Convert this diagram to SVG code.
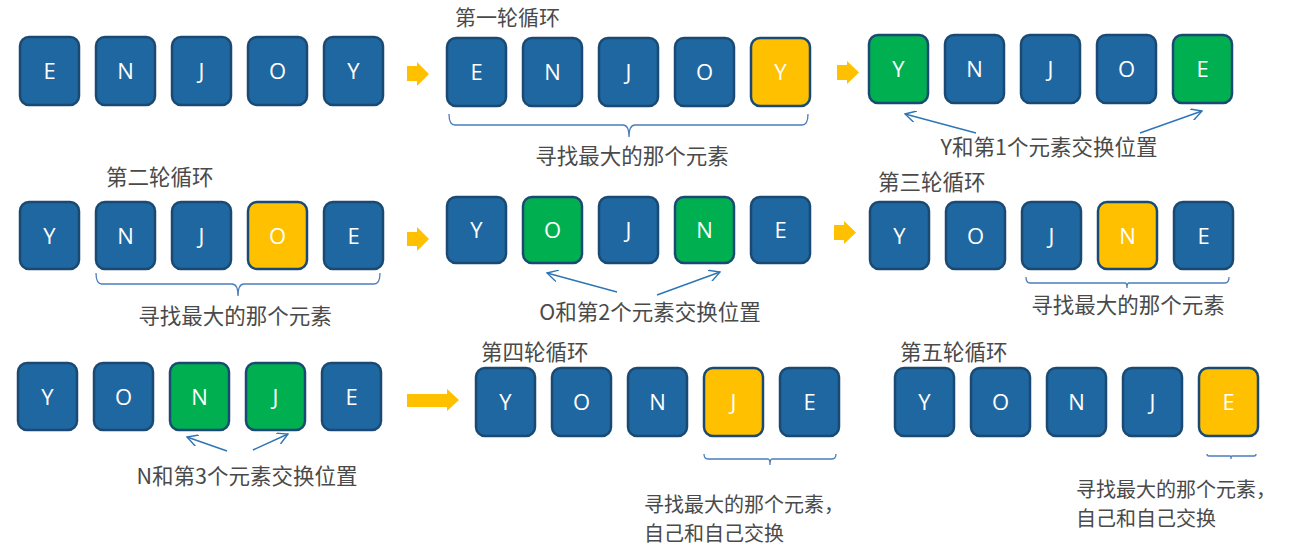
<svg xmlns="http://www.w3.org/2000/svg" width="1300" height="556" viewBox="0 0 1300 556">
<defs>
<style>
.b{fill:#1F67A0;stroke:#1A4A73;stroke-width:2.5}
.g{fill:#00B050;stroke:#1A4A73;stroke-width:2.5}
.y{fill:#FFC000;stroke:#1A4A73;stroke-width:2.5}
.l{font-family:"Open Sans","Noto Sans",sans-serif;font-size:22px;fill:#FFFFFF;text-anchor:middle}
.t{font-family:"Noto Sans CJK SC","Noto Sans",sans-serif;font-size:21.5px;fill:#4A4A4A}
.t2{font-family:"Noto Sans CJK SC","Noto Sans",sans-serif;font-size:20px;fill:#4A4A4A}
.br{fill:none;stroke:#4A7EBB;stroke-width:1.3}
.sw{fill:none;stroke:#2E75B6;stroke-width:1.4}
.ya{fill:#FFC000}
</style>
<marker id="oa" viewBox="0 0 12 12" refX="11" refY="6" markerWidth="12" markerHeight="12" markerUnits="userSpaceOnUse" orient="auto">
<path d="M0,0 L11,6 L0,12" fill="none" stroke="#2E75B6" stroke-width="1.4"/>
</marker>
</defs>
<rect width="1300" height="556" fill="#FFFFFF"/>

<!-- Row 1 group A -->
<g id="r1a">
<rect class="b" x="20" y="37" width="59" height="68" rx="9"/><text class="l" x="49.5" y="79">E</text>
<rect class="b" x="96" y="37" width="59" height="68" rx="9"/><text class="l" x="125.5" y="79">N</text>
<rect class="b" x="172" y="37" width="59" height="68" rx="9"/><text class="l" x="201.5" y="79">J</text>
<rect class="b" x="248" y="37" width="59" height="68" rx="9"/><text class="l" x="277.5" y="79">O</text>
<rect class="b" x="324" y="37" width="59" height="68" rx="9"/><text class="l" x="353.5" y="79">Y</text>
</g>
<!-- Row 1 group B -->
<g id="r1b">
<text class="t" x="455" y="25" style="font-size:21px">第一轮循环</text>
<rect class="b" x="447" y="38" width="59" height="68" rx="9"/><text class="l" x="476.5" y="80">E</text>
<rect class="b" x="523" y="38" width="59" height="68" rx="9"/><text class="l" x="552.5" y="80">N</text>
<rect class="b" x="599" y="38" width="59" height="68" rx="9"/><text class="l" x="628.5" y="80">J</text>
<rect class="b" x="675" y="38" width="59" height="68" rx="9"/><text class="l" x="704.5" y="80">O</text>
<rect class="y" x="751" y="38" width="59" height="68" rx="9"/><text class="l" x="780.5" y="80">Y</text>
<text class="t" x="632" y="164" text-anchor="middle">寻找最大的那个元素</text>
</g>
<!-- Row 1 group C -->
<g id="r1c">
<rect class="g" x="869" y="35" width="59" height="68" rx="9"/><text class="l" x="898.5" y="77">Y</text>
<rect class="b" x="945" y="35" width="59" height="68" rx="9"/><text class="l" x="974.5" y="77">N</text>
<rect class="b" x="1021" y="35" width="59" height="68" rx="9"/><text class="l" x="1050.5" y="77">J</text>
<rect class="b" x="1097" y="35" width="59" height="68" rx="9"/><text class="l" x="1126.5" y="77">O</text>
<rect class="g" x="1173" y="35" width="59" height="68" rx="9"/><text class="l" x="1202.5" y="77">E</text>
<text class="t" x="1049" y="155" text-anchor="middle">Y和第1个元素交换位置</text>
</g>

<!-- Row 2 group A -->
<g id="r2a">
<text class="t" x="106" y="185">第二轮循环</text>
<rect class="b" x="20" y="202" width="59" height="67" rx="9"/><text class="l" x="49.5" y="244">Y</text>
<rect class="b" x="96" y="202" width="59" height="67" rx="9"/><text class="l" x="125.5" y="244">N</text>
<rect class="b" x="172" y="202" width="59" height="67" rx="9"/><text class="l" x="201.5" y="244">J</text>
<rect class="y" x="248" y="202" width="59" height="67" rx="9"/><text class="l" x="277.5" y="244">O</text>
<rect class="b" x="324" y="202" width="59" height="67" rx="9"/><text class="l" x="353.5" y="244">E</text>
<text class="t" x="235" y="324" text-anchor="middle">寻找最大的那个元素</text>
</g>
<!-- Row 2 group B -->
<g id="r2b">
<rect class="b" x="447" y="197" width="59" height="66" rx="9"/><text class="l" x="476.5" y="238">Y</text>
<rect class="g" x="523" y="197" width="59" height="66" rx="9"/><text class="l" x="552.5" y="238">O</text>
<rect class="b" x="599" y="197" width="59" height="66" rx="9"/><text class="l" x="628.5" y="238">J</text>
<rect class="g" x="675" y="197" width="59" height="66" rx="9"/><text class="l" x="704.5" y="238">N</text>
<rect class="b" x="751" y="197" width="59" height="66" rx="9"/><text class="l" x="780.5" y="238">E</text>
<text class="t" x="650" y="320" text-anchor="middle">O和第2个元素交换位置</text>
</g>
<!-- Row 2 group C -->
<g id="r2c">
<text class="t" x="878" y="190">第三轮循环</text>
<rect class="b" x="870" y="202" width="59" height="67" rx="9"/><text class="l" x="899.5" y="244">Y</text>
<rect class="b" x="946" y="202" width="59" height="67" rx="9"/><text class="l" x="975.5" y="244">O</text>
<rect class="b" x="1022" y="202" width="59" height="67" rx="9"/><text class="l" x="1051.5" y="244">J</text>
<rect class="y" x="1098" y="202" width="59" height="67" rx="9"/><text class="l" x="1127.5" y="244">N</text>
<rect class="b" x="1174" y="202" width="59" height="67" rx="9"/><text class="l" x="1203.5" y="244">E</text>
<text class="t" x="1128" y="313" text-anchor="middle">寻找最大的那个元素</text>
</g>

<!-- Row 3 group A -->
<g id="r3a">
<rect class="b" x="18" y="363" width="59" height="67" rx="9"/><text class="l" x="47.5" y="405">Y</text>
<rect class="b" x="94" y="363" width="59" height="67" rx="9"/><text class="l" x="123.5" y="405">O</text>
<rect class="g" x="170" y="363" width="59" height="67" rx="9"/><text class="l" x="199.5" y="405">N</text>
<rect class="g" x="246" y="363" width="59" height="67" rx="9"/><text class="l" x="275.5" y="405">J</text>
<rect class="b" x="322" y="363" width="59" height="67" rx="9"/><text class="l" x="351.5" y="405">E</text>
<text class="t" x="247" y="484" text-anchor="middle">N和第3个元素交换位置</text>
</g>
<!-- Row 3 group B -->
<g id="r3b">
<text class="t" x="481" y="360">第四轮循环</text>
<rect class="b" x="476" y="368" width="59" height="68" rx="9"/><text class="l" x="505.5" y="410">Y</text>
<rect class="b" x="552" y="368" width="59" height="68" rx="9"/><text class="l" x="581.5" y="410">O</text>
<rect class="b" x="628" y="368" width="59" height="68" rx="9"/><text class="l" x="657.5" y="410">N</text>
<rect class="y" x="704" y="368" width="59" height="68" rx="9"/><text class="l" x="733.5" y="410">J</text>
<rect class="b" x="780" y="368" width="59" height="68" rx="9"/><text class="l" x="809.5" y="410">E</text>
<text class="t2" x="644" y="512"><tspan x="644" y="512">寻找最大的那个元素，</tspan><tspan x="644" y="541">自己和自己交换</tspan></text>
</g>
<!-- Row 3 group C -->
<g id="r3c">
<text class="t" x="900" y="360">第五轮循环</text>
<rect class="b" x="895" y="368" width="59" height="68" rx="9"/><text class="l" x="924.5" y="410">Y</text>
<rect class="b" x="971" y="368" width="59" height="68" rx="9"/><text class="l" x="1000.5" y="410">O</text>
<rect class="b" x="1047" y="368" width="59" height="68" rx="9"/><text class="l" x="1076.5" y="410">N</text>
<rect class="b" x="1123" y="368" width="59" height="68" rx="9"/><text class="l" x="1152.5" y="410">J</text>
<rect class="y" x="1199" y="368" width="59" height="68" rx="9"/><text class="l" x="1228.5" y="410">E</text>
<text class="t2" x="1076" y="497"><tspan x="1076" y="497">寻找最大的那个元素，</tspan><tspan x="1076" y="526">自己和自己交换</tspan></text>
</g>

<g id="connectors">
<!-- step arrows -->
<polygon class="ya" points="407,66 417,66 417,62 429,74 417,86 417,81 407,81"/>
<polygon class="ya" points="837,65 847,65 847,61 859,72.5 847,84 847,80 837,80"/>
<polygon class="ya" points="407,232 417,232 417,227 429,239 417,251 417,246 407,246"/>
<polygon class="ya" points="834,225 844,225 844,221 856,232.5 844,244 844,240 834,240"/>
<polygon class="ya" points="407,394 447,394 447,389 459,400 447,411 447,407 407,407"/>
<!-- braces -->
<path class="br" d="M449,114 Q449,125 455,125 H623 Q629,125 629,137 Q629,125 635,125 H802 Q808,125 808,114"/>
<path class="br" d="M96,273 Q96,284 102,284 H232 Q238,284 238,296 Q238,284 244,284 H374 Q380,284 380,273"/>
<path class="br" d="M1026,277 Q1026,283 1030,283 H1125 Q1127,283 1127,288 Q1127,283 1129,283 H1225 Q1229,283 1229,277"/>
<path class="br" d="M704,454 Q704,459 708,459 H768 Q770,459 770,465 Q770,459 772,459 H832 Q836,459 836,454"/>
<path class="br" d="M1207,454 Q1207,456 1209,456 H1230 Q1231,456 1231,459 Q1231,456 1232,456 H1254 Q1256,456 1256,454"/>
<!-- swap arrows -->
<line class="sw" x1="976" y1="133" x2="905" y2="114" marker-end="url(#oa)"/>
<line class="sw" x1="1140" y1="133" x2="1202" y2="111" marker-end="url(#oa)"/>
<line class="sw" x1="617" y1="292" x2="547" y2="273" marker-end="url(#oa)"/>
<line class="sw" x1="657" y1="295" x2="720" y2="272" marker-end="url(#oa)"/>
<line class="sw" x1="227" y1="451" x2="187" y2="437" marker-end="url(#oa)"/>
<line class="sw" x1="253" y1="450" x2="288" y2="434" marker-end="url(#oa)"/>
</g>
</svg>
